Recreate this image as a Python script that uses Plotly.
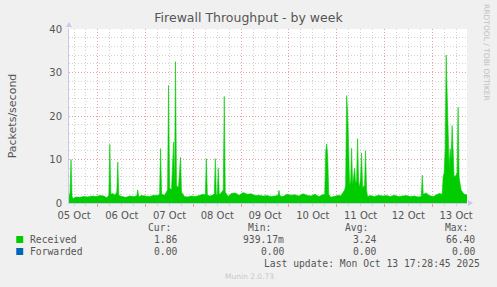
import plotly.graph_objects as go

# ---------------- data ----------------
times = [
    "2025-10-05 09:30", "2025-10-05 10:00", "2025-10-05 10:30", "2025-10-05 11:00", "2025-10-05 11:30",
    "2025-10-05 13:00", "2025-10-05 15:00", "2025-10-05 17:00", "2025-10-05 19:00", "2025-10-05 21:00",
    "2025-10-05 23:00",
    "2025-10-06 01:00", "2025-10-06 03:00", "2025-10-06 04:30", "2025-10-06 05:30", "2025-10-06 06:00",
    "2025-10-06 06:30", "2025-10-06 07:30", "2025-10-06 08:30", "2025-10-06 09:30", "2025-10-06 10:00",
    "2025-10-06 10:30", "2025-10-06 12:00", "2025-10-06 14:00", "2025-10-06 16:00", "2025-10-06 18:00",
    "2025-10-06 19:30", "2025-10-06 20:00", "2025-10-06 20:30", "2025-10-06 22:00",
    "2025-10-07 00:00", "2025-10-07 02:00", "2025-10-07 04:00", "2025-10-07 06:00", "2025-10-07 07:00",
    "2025-10-07 07:30", "2025-10-07 08:00", "2025-10-07 09:30", "2025-10-07 11:00", "2025-10-07 11:30",
    "2025-10-07 12:00", "2025-10-07 13:00", "2025-10-07 14:00", "2025-10-07 14:30", "2025-10-07 15:00",
    "2025-10-07 15:30", "2025-10-07 16:30", "2025-10-07 17:30", "2025-10-07 18:00", "2025-10-07 19:30",
    "2025-10-07 21:00", "2025-10-07 23:00",
    "2025-10-08 01:00", "2025-10-08 03:00", "2025-10-08 05:00", "2025-10-08 06:00", "2025-10-08 06:30",
    "2025-10-08 07:00", "2025-10-08 08:30", "2025-10-08 10:30", "2025-10-08 11:00", "2025-10-08 11:30",
    "2025-10-08 12:00", "2025-10-08 12:30", "2025-10-08 13:00", "2025-10-08 15:00", "2025-10-08 15:30",
    "2025-10-08 16:00", "2025-10-08 17:30", "2025-10-08 19:00", "2025-10-08 21:00", "2025-10-08 23:00",
    "2025-10-09 01:00", "2025-10-09 03:00", "2025-10-09 05:00", "2025-10-09 07:00", "2025-10-09 09:00",
    "2025-10-09 11:00", "2025-10-09 13:00", "2025-10-09 15:00", "2025-10-09 17:00", "2025-10-09 18:30",
    "2025-10-09 19:00", "2025-10-09 19:30", "2025-10-09 21:00", "2025-10-09 23:00",
    "2025-10-10 01:00", "2025-10-10 03:00", "2025-10-10 05:00", "2025-10-10 07:00", "2025-10-10 09:00",
    "2025-10-10 11:00", "2025-10-10 13:00", "2025-10-10 15:00", "2025-10-10 17:00", "2025-10-10 18:00",
    "2025-10-10 18:30", "2025-10-10 19:00", "2025-10-10 19:30", "2025-10-10 20:00", "2025-10-10 21:00",
    "2025-10-10 23:00",
    "2025-10-11 00:00", "2025-10-11 01:00", "2025-10-11 02:00", "2025-10-11 03:00", "2025-10-11 04:00",
    "2025-10-11 04:30", "2025-10-11 05:00", "2025-10-11 05:30", "2025-10-11 06:00", "2025-10-11 06:30",
    "2025-10-11 07:00", "2025-10-11 07:30", "2025-10-11 08:00", "2025-10-11 09:00", "2025-10-11 09:30",
    "2025-10-11 10:00", "2025-10-11 10:30", "2025-10-11 11:00", "2025-10-11 11:30", "2025-10-11 12:00",
    "2025-10-11 12:30", "2025-10-11 13:00", "2025-10-11 14:00", "2025-10-11 14:30", "2025-10-11 15:00",
    "2025-10-11 15:30", "2025-10-11 17:00", "2025-10-11 19:00", "2025-10-11 21:00", "2025-10-11 23:00",
    "2025-10-12 01:00", "2025-10-12 03:00", "2025-10-12 05:00", "2025-10-12 07:00", "2025-10-12 09:00",
    "2025-10-12 11:00", "2025-10-12 13:00", "2025-10-12 15:00", "2025-10-12 17:00", "2025-10-12 18:30",
    "2025-10-12 19:00", "2025-10-12 19:30", "2025-10-12 21:00", "2025-10-12 22:30",
    "2025-10-13 00:30", "2025-10-13 02:00", "2025-10-13 03:30", "2025-10-13 05:00", "2025-10-13 05:30",
    "2025-10-13 06:00", "2025-10-13 06:30", "2025-10-13 07:00", "2025-10-13 07:30", "2025-10-13 08:00",
    "2025-10-13 08:30", "2025-10-13 09:00", "2025-10-13 09:30", "2025-10-13 10:00", "2025-10-13 10:30",
    "2025-10-13 11:00", "2025-10-13 12:00", "2025-10-13 12:30", "2025-10-13 13:00", "2025-10-13 13:30",
    "2025-10-13 14:30", "2025-10-13 16:00", "2025-10-13 17:28",
]
received = [
    1.3, 2.5, 10.0, 1.6, 1.0,
    1.4, 1.3, 1.5, 1.4, 1.6,
    1.5,
    1.7, 1.6, 1.2, 1.8, 13.5,
    2.0, 2.2, 1.8, 2.5, 9.4,
    1.8, 1.5, 1.3, 1.6, 1.5,
    1.6, 3.0, 1.5, 1.7,
    1.6, 1.5, 1.8, 1.7, 2.0,
    12.5, 2.0, 1.8, 3.0, 27.0,
    3.5, 3.0, 14.0, 3.5, 32.5,
    4.0, 3.5, 10.5, 2.5, 1.5,
    1.4, 1.6,
    1.5, 1.7, 2.0, 1.8, 10.2,
    1.8, 1.6, 2.0, 10.2, 1.8,
    2.0, 8.0, 1.8, 3.0, 24.5,
    2.5, 1.5, 2.2, 2.3, 1.8,
    2.4, 2.0, 2.1, 1.7, 1.8,
    1.6, 1.7, 1.5, 1.6, 1.7,
    2.9, 1.6, 1.5, 2.0,
    1.8, 1.9, 1.6, 2.1, 1.8,
    1.6, 2.0, 1.5, 1.9, 2.0,
    12.0, 13.6, 10.5, 2.0, 1.3,
    1.6,
    1.7, 1.8, 1.6, 2.2, 3.0,
    4.0, 24.7, 21.0, 8.0, 4.0,
    5.0, 12.6, 4.0, 8.0, 4.5,
    5.2, 14.8, 5.0, 3.5, 6.0,
    11.5, 3.5, 4.0, 12.0, 3.0,
    1.5, 1.7, 1.5, 1.8, 1.6,
    1.7, 1.5, 1.8, 1.5, 1.6,
    1.7, 1.5, 1.6, 1.4, 1.5,
    6.4, 2.0, 2.3, 1.7,
    1.5, 1.8, 2.2, 2.0, 6.0,
    7.0, 12.0, 34.0, 23.5, 16.0,
    8.0, 12.5, 10.0, 17.8, 10.8,
    6.0, 6.4, 7.0, 22.0, 6.0,
    3.0, 2.0, 1.9,
]
forwarded = [0.0 for _ in times]

legend_labels = ["Received", "Forwarded"]
legend_colors = ["#00CC00", "#0066B3"]
cur_vals = ["1.86", "0.00"]
min_vals = ["939.17m", "0.00"]
avg_vals = ["3.24", "0.00"]
max_vals = ["66.40", "0.00"]
stat_headers = ["Cur:", "Min:", "Avg:", "Max:"]

title = "Firewall Throughput - by week"
y_title = "Packets/second"
last_update = "Last update: Mon Oct 13 17:28:45 2025"
footer = "Munin 2.0.73"
side_text = "RRDTOOL / TOBI OETIKER"

# ---------------- layout geometry ----------------
W, H = 497, 287
L, R, T, B = 67, 467, 29, 203


def px(x):
    return (x - L) / (R - L)


def py(y):
    return (B - y) / (B - T)


TEXT = "#555555"
MAJOR = "#E8A0A0"
MINOR = "#D2D2D2"
AXIS = "#C8C8F0"
MONO = "DejaVu Sans Mono"
SANS = "DejaVu Sans"

fig = go.Figure()
fig.add_trace(go.Scatter(x=times, y=forwarded, mode="lines", line=dict(color=legend_colors[1], width=1),
                         fill="tozeroy", fillcolor=legend_colors[1], hoverinfo="skip", showlegend=False))
fig.add_trace(go.Scatter(x=times, y=received, mode="lines", line=dict(color=legend_colors[0], width=0.6),
                         fill="tozeroy", fillcolor=legend_colors[0], hoverinfo="skip", showlegend=False))

fig.update_layout(
    width=W, height=H,
    margin=dict(l=L, r=W - R, t=T, b=H - B),
    paper_bgcolor="#F0F0F0",
    plot_bgcolor="#FFFFFF",
    showlegend=False,
    font=dict(family=SANS, size=10, color=TEXT),
    title=dict(text=title, x=0.5, xanchor="center", y=1 - 18 / H, yanchor="middle",
               font=dict(family=SANS, size=12.5, color=TEXT)),
)

fig.update_xaxes(
    type="date",
    range=["2025-10-05 09:28:45", "2025-10-13 17:28:45"],
    dtick=86400000, tick0="2025-10-05",
    ticklabelmode="period", tickformat="%d %b",
    showgrid=True, gridcolor=MAJOR, griddash="1px,2px", gridwidth=1,
    ticks="outside", ticklen=3, tickcolor=MAJOR,
    minor=dict(dtick=21600000, showgrid=True, gridcolor=MINOR, griddash="1px,2px", gridwidth=1,
               ticks="outside", ticklen=2, tickcolor=MINOR),
    showline=True, linecolor=AXIS, linewidth=1,
    zeroline=False, tickfont=dict(family=SANS, size=10, color=TEXT),
    fixedrange=True,
)
fig.update_yaxes(
    range=[0, 40], dtick=10, tick0=0,
    showgrid=True, gridcolor=MAJOR, griddash="1px,2px", gridwidth=1,
    ticks="", ticklabelstandoff=4,
    minor=dict(dtick=2, showgrid=True, gridcolor=MINOR, griddash="1px,2px", gridwidth=1),
    showline=True, linecolor=AXIS, linewidth=1,
    zeroline=False, tickfont=dict(family=SANS, size=10, color=TEXT),
    title=dict(text=y_title, font=dict(family=SANS, size=11, color=TEXT), standoff=30),
    fixedrange=True,
)

# axis arrows
fig.add_shape(type="path", xref="paper", yref="paper", xsizemode="pixel", ysizemode="pixel",
              xanchor=0, yanchor=1, path="M -3,2 L 3,2 L 0,7 Z", fillcolor=AXIS, line=dict(width=0))
fig.add_shape(type="path", xref="paper", yref="paper", xsizemode="pixel", ysizemode="pixel",
              xanchor=1, yanchor=0, path="M 1,-3 L 1,3 L 6,0 Z", fillcolor=AXIS, line=dict(width=0))

ann = []


def add_text(text, x, y, xanchor="left", size=9.7, color=TEXT, family=MONO, angle=0):
    ann.append(dict(text=text, x=px(x), y=py(y), xref="paper", yref="paper", xanchor=xanchor,
                    yanchor="middle", showarrow=False, textangle=angle,
                    font=dict(family=family, size=size, color=color)))


# legend header
col_right = [178, 285, 378, 477]
hdr_right = [172, 272, 370, 470]
for h, xr in zip(stat_headers, hdr_right):
    add_text(h, xr, 227, xanchor="right")

rows_y = [239.5, 251.5]
for i, (lab, col) in enumerate(zip(legend_labels, legend_colors)):
    y = rows_y[i]
    fig.add_shape(type="rect", xref="paper", yref="paper", x0=px(14), x1=px(21), y0=py(y + 3.5), y1=py(y - 3.5),
                  fillcolor=col, line=dict(width=0))
    add_text(lab, 26, y)
    for vals, xr in zip([cur_vals, min_vals, avg_vals, max_vals], col_right):
        add_text(vals[i], xr, y, xanchor="right")

add_text(last_update, 482, 263.5, xanchor="right")
add_text(footer, 248, 276.5, xanchor="center", size=7.5, color="#C8C8C8", family=SANS)
add_text(side_text, 487, 53, xanchor="center", size=7.5, color="#C0C0C0", family=SANS, angle=90)

fig.update_layout(annotations=ann)
fig.write_html("out.html")
